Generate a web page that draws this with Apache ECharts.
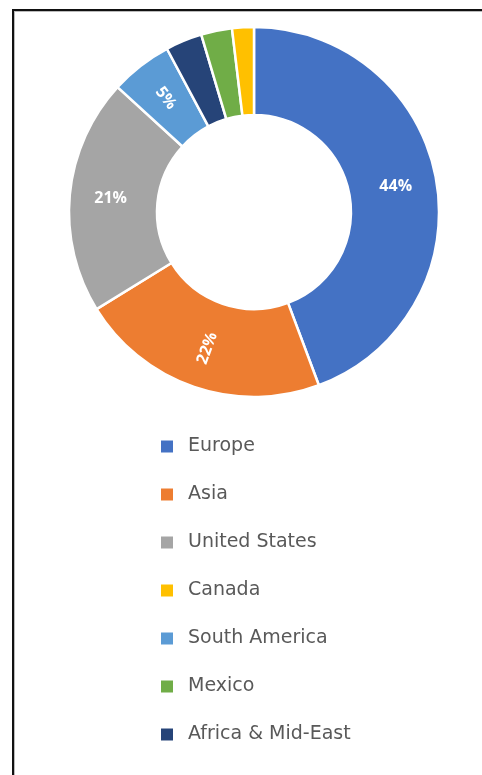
<!DOCTYPE html>
<html>
<head>
<meta charset="utf-8">
<script src="https://cdn.jsdelivr.net/npm/echarts@6/dist/echarts.min.js"></script>
<style>
html,body{margin:0;padding:0;background:#fff;}
#frame{position:absolute;left:12px;top:9px;width:470px;height:766px;border-top:2px solid #111;border-left:2px solid #111;box-shadow:inset 1px 1px 0 #bbb;}
#chart{position:absolute;left:0;top:0;width:482px;height:775px;}
</style>
</head>
<body>
<div id="frame"></div>
<div id="chart"></div>
<script>
// Slices in clockwise drawing order
const regions = ['Europe', 'Asia', 'United States', 'South America', 'Africa & Mid-East', 'Mexico', 'Canada'];
const shares = [44.3, 21.9, 20.6, 5.4, 3.2, 2.7, 1.9];
const labelShown = [true, true, true, true, false, false, false];
// Legend order
const legendOrder = ['Europe', 'Asia', 'United States', 'Canada', 'South America', 'Mexico', 'Africa & Mid-East'];

const colors = {
  'Europe': '#4472C4', 'Asia': '#ED7D31', 'United States': '#A5A5A5', 'Canada': '#FFC000',
  'South America': '#5B9BD5', 'Mexico': '#70AD47', 'Africa & Mid-East': '#264478'
};
const rotations = {'Asia': 70, 'South America': -52};

const chart = echarts.init(document.getElementById('chart'), null, {renderer: 'canvas'});
const data = regions.map((r, i) => ({
  name: r,
  value: shares[i],
  itemStyle: {color: colors[r]},
  label: {show: labelShown[i], rotate: rotations[r] || 0}
}));

chart.setOption({
  animation: false,
  legend: {
    orient: 'vertical',
    left: 154,
    top: 432,
    data: legendOrder,
    icon: 'rect',
    itemWidth: 14,
    itemHeight: 14,
    itemGap: 29,
    textStyle: {color: '#595959', fontSize: 19, fontFamily: 'DejaVu Sans', lineHeight: 18, padding: [0, 0, 0, 9]},
    selectedMode: false
  },
  series: [{
    type: 'pie',
    center: [254, 212],
    radius: [97, 185],
    startAngle: 90,
    clockwise: true,
    avoidLabelOverlap: false,
    itemStyle: {borderColor: '#fff', borderWidth: 2.5},
    label: {
      position: 'inside',
      color: '#fff',
      fontWeight: 'bold',
      fontSize: 16,
      fontFamily: 'Open Sans',
      formatter: p => Math.round(p.value) + '%'
    },
    labelLine: {show: false},
    emphasis: {disabled: true},
    data: data
  }]
});
</script>
</body>
</html>
